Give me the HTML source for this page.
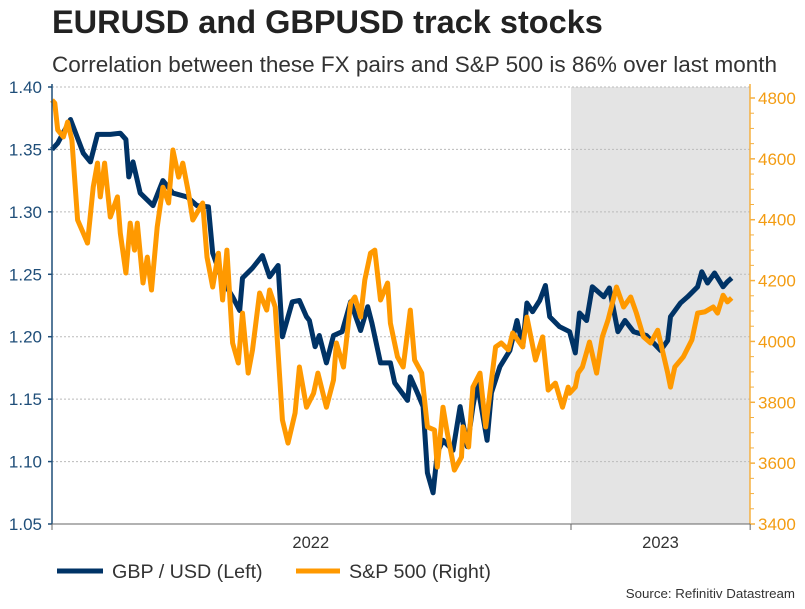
<!DOCTYPE html>
<html><head><meta charset="utf-8"><style>
body{margin:0;background:#fff;font-family:"Liberation Sans",sans-serif}
svg text{font-family:"Liberation Sans",sans-serif}
</style></head><body>
<svg id="c" width="805" height="604" xmlns="http://www.w3.org/2000/svg">
<text x="52" y="33" font-size="32.5" font-weight="bold" fill="#222">EURUSD and GBPUSD track stocks</text>
<text x="52" y="72" font-size="22.5" fill="#333">Correlation between these FX pairs and S&amp;P 500 is 86% over last month</text>
<rect x="571" y="87" width="179" height="437" fill="#e4e4e4"/>
<g id="grid"></g><g id="series"></g><g id="axes"></g>
<line x1="57" y1="571" x2="103" y2="571" stroke="#003366" stroke-width="5"/>
<text x="112" y="578" font-size="19.7" fill="#333">GBP / USD (Left)</text>
<line x1="296" y1="571" x2="340" y2="571" stroke="#ff9900" stroke-width="5"/>
<text x="349" y="578" font-size="19.7" fill="#333">S&amp;P 500 (Right)</text>
<text x="795" y="598" font-size="13.3" fill="#333" text-anchor="end">Source: Refinitiv Datastream</text>
</svg>
<script>
const leftTicks=[1.05,1.10,1.15,1.20,1.25,1.30,1.35,1.40];
const rightTicks=[3400,3600,3800,4000,4200,4400,4600,4800];
const yearLabels=["2022","2023"];
const gbpDays=[0,4,13,22,27,32,41,48,52,54,57,62,71,78,85,95,102,110,113,120,127,132,134,141,148,153,159,162,169,174,179,181,185,188,193,198,204,210,217,222,225,231,238,241,250,252,257,261,264,268,271,275,282,287,292,296,299,306,309,315,322,327,331,334,338,343,347,350,357,364,368,371,376,380,388,392,398,403,409,418,428,433,435,442,447,454,457,461,466,472,475,478];
const gbpVals=[1.350,1.355,1.374,1.347,1.340,1.362,1.362,1.363,1.358,1.328,1.340,1.315,1.305,1.325,1.315,1.312,1.305,1.304,1.267,1.245,1.232,1.221,1.247,1.255,1.265,1.248,1.257,1.200,1.228,1.229,1.216,1.213,1.192,1.201,1.179,1.201,1.204,1.228,1.205,1.224,1.211,1.179,1.179,1.163,1.149,1.168,1.155,1.144,1.091,1.075,1.107,1.117,1.109,1.144,1.112,1.144,1.163,1.117,1.155,1.176,1.189,1.213,1.192,1.227,1.220,1.229,1.241,1.216,1.208,1.204,1.187,1.219,1.213,1.240,1.232,1.239,1.204,1.213,1.204,1.201,1.189,1.197,1.216,1.227,1.232,1.240,1.252,1.243,1.251,1.240,1.244,1.247];
const spxDays=[0,2,4,8,11,14,18,22,25,29,32,34,37,41,46,48,52,55,58,60,64,67,70,74,78,82,85,89,92,96,99,106,109,113,117,120,123,127,131,134,138,141,146,151,153,157,162,166,171,174,179,184,187,193,198,200,205,210,213,217,220,224,227,231,236,238,243,247,252,255,260,264,269,271,275,278,283,288,289,293,296,301,305,312,316,321,324,331,334,340,345,349,354,359,363,364,368,370,373,378,383,387,391,397,402,407,411,416,421,426,433,435,438,444,450,454,459,465,468,472,475,478];
const spxVals=[4793,4783,4695,4672,4721,4662,4399,4356,4323,4507,4586,4475,4586,4409,4475,4356,4225,4389,4300,4389,4192,4277,4169,4376,4507,4455,4629,4540,4586,4488,4399,4455,4277,4179,4290,4136,4300,3995,3929,4093,3896,3972,4159,4103,4169,4113,3742,3666,3765,3916,3784,3830,3896,3784,3873,3995,3916,4126,4146,4080,4202,4290,4300,4136,4192,4060,3949,3916,4103,3939,3896,3719,3709,3587,3784,3699,3577,3620,3719,3653,3850,3896,3719,3982,3995,3972,4028,3982,4080,3939,4015,3840,3863,3784,3850,3830,3850,3896,3916,3998,3896,4015,4070,4179,4113,4146,4093,4015,3995,4037,3896,3850,3916,3949,4005,4093,4097,4113,4093,4152,4130,4143];
const NS="http://www.w3.org/2000/svg";
const X0=52,X1=750,Y0=524,Y1=87;
const xS=d=>X0+d/365*519;
const yL=v=>Y0-(v-1.05)/0.35*(Y0-Y1);
const yR=v=>Y0-(v-3400)/1400*426;
function mk(tag,attrs,parent){const e=document.createElementNS(NS,tag);for(const k in attrs)e.setAttribute(k,attrs[k]);parent.appendChild(e);return e;}
const grid=document.getElementById('grid'),axes=document.getElementById('axes'),ser=document.getElementById('series');
leftTicks.forEach(t=>{
  const y=yL(t);
  if(t>1.05){const g=mk('line',{x1:X0,x2:X1,y1:y,y2:y,stroke:'#bbb','stroke-dasharray':'2,2'},grid);
  
  }
  const tk=mk('line',{x1:X0-4,x2:X0,y1:y,y2:y,stroke:'#1f4e79','stroke-width':1.5},axes);
  
  
  const tx=mk('text',{x:X0-10,y:y+6,'font-size':17,fill:'#1f4e79','text-anchor':'end'},axes);tx.textContent=t.toFixed(2);
  
  
});
rightTicks.forEach((t,i)=>{
  const y=yR(t);
  const tk=mk('line',{x1:X1,x2:X1+5,y1:y,y2:y,stroke:'#f5b041','stroke-width':1.5},axes);
  
  
  if(i<rightTicks.length-1){for(let m=1;m<4;m++){const ym=yR(t+m*50);const mt=mk('line',{x1:X1,x2:X1+4,y1:ym,y2:ym,stroke:'#f5b041','stroke-width':1},axes);
  
  }}
  const tx=mk('text',{x:X1+8,y:y+6,'font-size':17,fill:'#f39c12'},axes);tx.textContent=t;
  
  
});
const la=mk('line',{x1:X0,x2:X0,y1:Y1-3,y2:Y0,stroke:'#1f4e79','stroke-width':1.5},axes);


const ra=mk('line',{x1:X1,x2:X1,y1:Y1-3,y2:Y0,stroke:'#f5b041','stroke-width':1.5},axes);


const ba=mk('line',{x1:X0,x2:X1,y1:Y0,y2:Y0,stroke:'#666','stroke-width':1},axes);


[0,365,Math.round((X1-X0)/519*365)].forEach(d=>{const t=mk('line',{x1:xS(d),x2:xS(d),y1:Y0,y2:Y0+6,stroke:'#666'},axes);
  
  });
yearLabels.forEach((l,i)=>{
  const cx=i===0?xS(182):(xS(365)+X1)/2;
  const tx=mk('text',{x:cx,y:548,'font-size':16.5,fill:'#333','text-anchor':'middle'},axes);tx.textContent=l;
  
  
});
function line(days,vals,ys,color,name){
  const p=days.map((d,i)=>(i?'L':'M')+xS(d).toFixed(1)+','+ys(vals[i]).toFixed(1)).join('');
  const e=mk('path',{d:p,fill:'none',stroke:color,'stroke-width':5,'stroke-linejoin':'round'},ser);
  
  
}
line(gbpDays,gbpVals,yL,'#003366','gbpusd-line');
line(spxDays,spxVals,yR,'#ff9900','spx-line');
</script>
</body></html>
